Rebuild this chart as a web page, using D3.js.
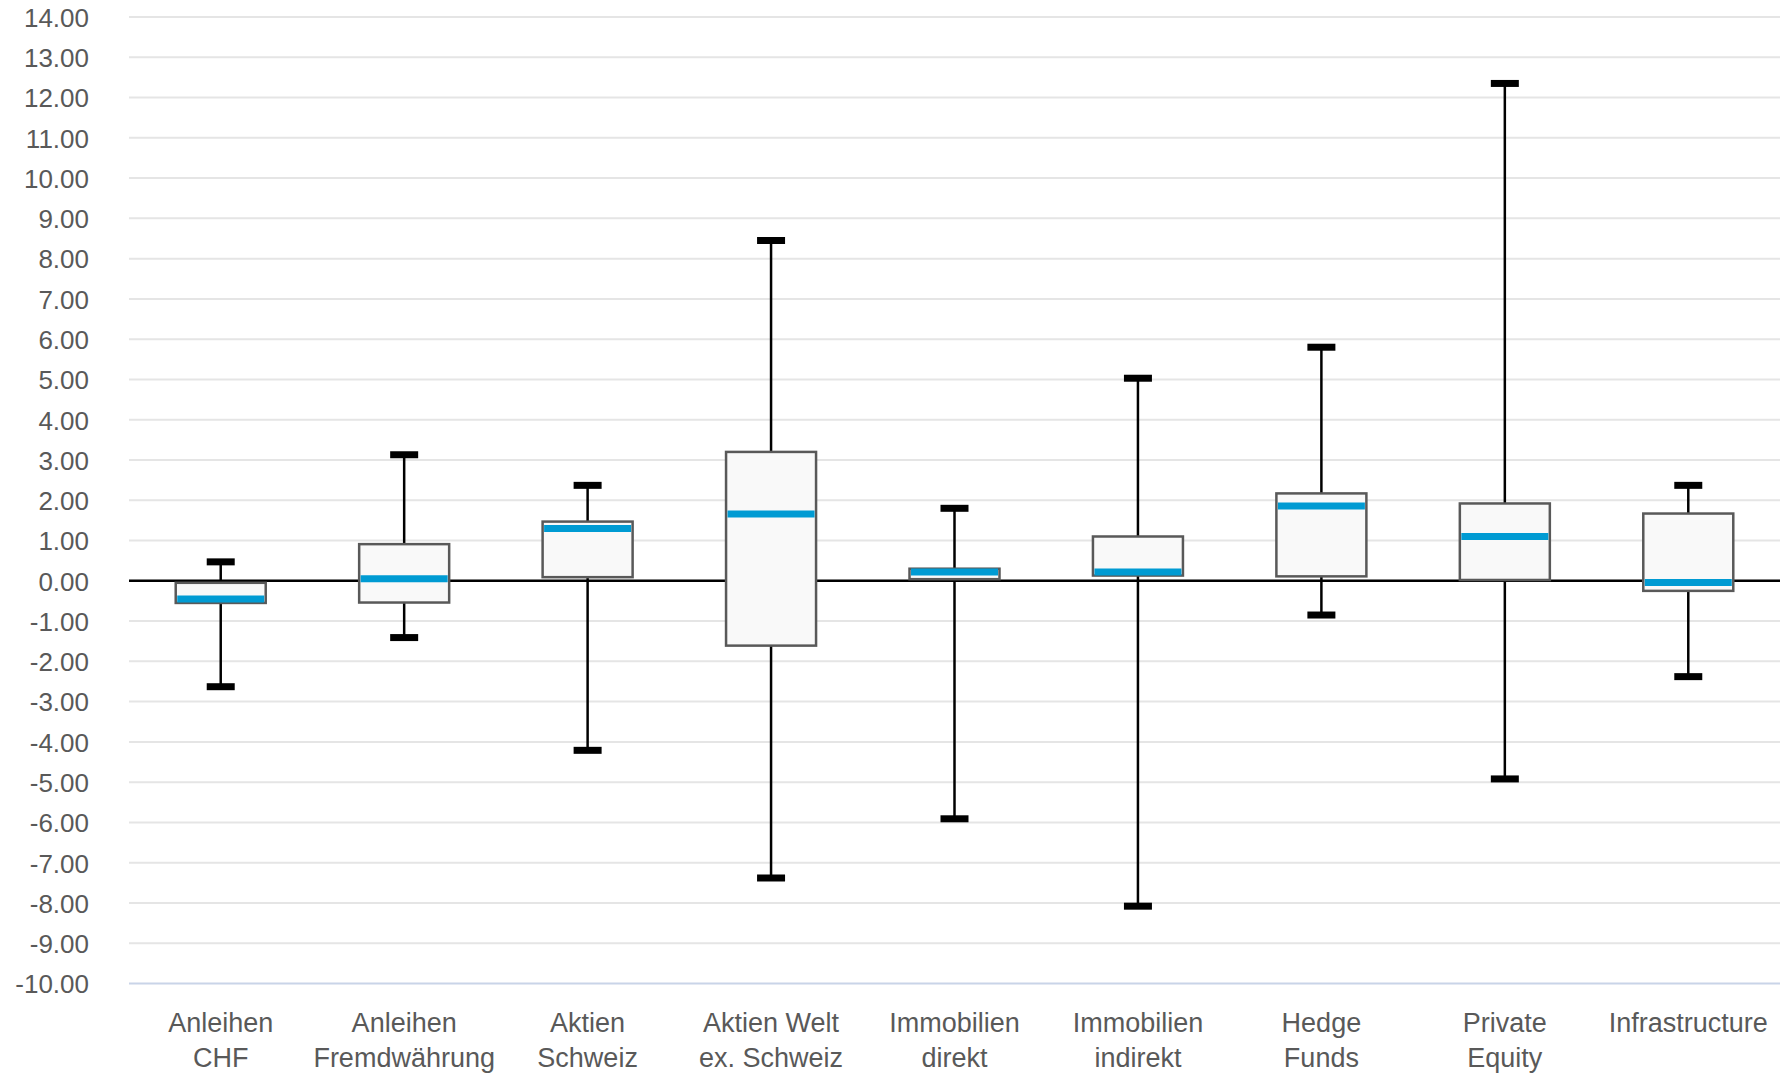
<!DOCTYPE html>
<html>
<head>
<meta charset="utf-8">
<script src="https://cdn.jsdelivr.net/npm/d3@7"></script>
<style>
  body { margin: 0; background: #fff; }
  text { font-family: "Liberation Sans", Arial, sans-serif; }
</style>
</head>
<body>
<script>
// categories (label lines) and box plot statistics
var categories = [
  ["Anleihen", "CHF"],
  ["Anleihen", "Fremdwährung"],
  ["Aktien", "Schweiz"],
  ["Aktien Welt", "ex. Schweiz"],
  ["Immobilien", "direkt"],
  ["Immobilien", "indirekt"],
  ["Hedge", "Funds"],
  ["Private", "Equity"],
  ["Infrastructure"]
];
var minVals    = [-2.63, -1.41, -4.21, -7.38, -5.91, -8.08, -0.85, -4.92, -2.38];
var q1Vals     = [-0.55, -0.54,  0.09, -1.61,  0.04,  0.13,  0.11,  0.02, -0.25];
var medianVals = [-0.45,  0.05,  1.30,  1.66,  0.22,  0.22,  1.86,  1.10, -0.04];
var q3Vals     = [-0.05,  0.91,  1.47,  3.20,  0.30,  1.10,  2.17,  1.92,  1.67];
var maxVals    = [ 0.47,  3.13,  2.37,  8.45,  1.80,  5.03,  5.80, 12.35,  2.37];
var yTicks = d3.range(-10, 15, 1);

var width = 1784, height = 1075;
var plotLeft = 129, plotRight = 1780, plotTop = 17, plotBottom = 983.5;

var data = categories.map(function(c, i) {
  return {key: c.join(" "), lines: c, min: minVals[i], q1: q1Vals[i],
          med: medianVals[i], q3: q3Vals[i], max: maxVals[i]};
});

var svg = d3.select("body").append("svg")
  .attr("width", width)
  .attr("height", height);

var x = d3.scaleBand().domain(data.map(d => d.key)).range([plotLeft, plotRight]);
var y = d3.scaleLinear().domain([-10, 14]).range([plotBottom, plotTop]);

var boxW = 90, capW = 28;
var fmt = d3.formatLocale({decimal: ".", thousands: ",", grouping: [3], currency: ["", ""], minus: "-"}).format(".2f");

// gridlines
svg.append("g").selectAll("line")
  .data(yTicks.filter(t => t > -10))
  .enter().append("line")
  .attr("x1", plotLeft).attr("x2", plotRight)
  .attr("y1", d => y(d)).attr("y2", d => y(d))
  .attr("stroke", "#e5e5e5")
  .attr("stroke-width", 2);

// bottom axis line
svg.append("line")
  .attr("x1", plotLeft).attr("x2", plotRight)
  .attr("y1", y(-10)).attr("y2", y(-10))
  .attr("stroke", "#c9d4e8")
  .attr("stroke-width", 2);

// y axis labels
var yAxis = d3.axisLeft(y).tickValues(yTicks).tickFormat(fmt).tickSize(0).tickPadding(40);
svg.append("g")
  .attr("transform", `translate(${plotLeft},1)`)
  .call(yAxis)
  .call(g => g.select(".domain").remove())
  .selectAll("text")
  .attr("fill", "#595959")
  .style("font-size", "26px")
  .style("font-family", "'Liberation Sans', Arial, sans-serif");

// x axis labels (wrapped)
var xAxis = d3.axisBottom(x).tickSize(0).tickFormat("");
var xg = svg.append("g")
  .attr("transform", `translate(0,${plotBottom})`)
  .call(xAxis);
xg.select(".domain").remove();
xg.selectAll(".tick").each(function(k) {
  var d = data.find(e => e.key === k);
  var t = d3.select(this).append("text")
    .attr("fill", "#595959")
    .attr("text-anchor", "middle")
    .style("font-size", "27px")
    .style("font-family", "'Liberation Sans', Arial, sans-serif");
  d.lines.forEach(function(line, j) {
    t.append("tspan").attr("x", 0).attr("y", 48 + j * 35).text(line);
  });
});

// zero line
svg.append("line")
  .attr("x1", plotLeft).attr("x2", plotRight)
  .attr("y1", y(0)).attr("y2", y(0))
  .attr("stroke", "#000")
  .attr("stroke-width", 2.5);

var g = svg.append("g");
var cx = d => x(d.key) + x.bandwidth() / 2;

// whiskers
g.selectAll(".wtop").data(data).enter().append("line")
  .attr("x1", cx).attr("x2", cx)
  .attr("y1", d => y(d.max)).attr("y2", d => y(d.q3))
  .attr("stroke", "#000").attr("stroke-width", 2.5);
g.selectAll(".wbot").data(data).enter().append("line")
  .attr("x1", cx).attr("x2", cx)
  .attr("y1", d => y(d.q1)).attr("y2", d => y(d.min))
  .attr("stroke", "#000").attr("stroke-width", 2.5);

// boxes
g.selectAll(".box").data(data).enter().append("rect")
  .attr("x", d => cx(d) - boxW / 2)
  .attr("width", boxW)
  .attr("y", d => y(d.q3))
  .attr("height", d => y(d.q1) - y(d.q3))
  .attr("fill", "#f9f9f9")
  .attr("stroke", "#595959")
  .attr("stroke-width", 2.5);

// medians
g.selectAll(".med").data(data).enter().append("line")
  .attr("x1", d => cx(d) - boxW / 2 + 1.5)
  .attr("x2", d => cx(d) + boxW / 2 - 1.5)
  .attr("y1", d => y(d.med)).attr("y2", d => y(d.med))
  .attr("stroke", "#009bd3")
  .attr("stroke-width", 7);

// caps
["max", "min"].forEach(function(k) {
  g.selectAll(".cap" + k).data(data).enter().append("line")
    .attr("x1", d => cx(d) - capW / 2)
    .attr("x2", d => cx(d) + capW / 2)
    .attr("y1", d => y(d[k])).attr("y2", d => y(d[k]))
    .attr("stroke", "#000")
    .attr("stroke-width", 7);
});
</script>
</body>
</html>
